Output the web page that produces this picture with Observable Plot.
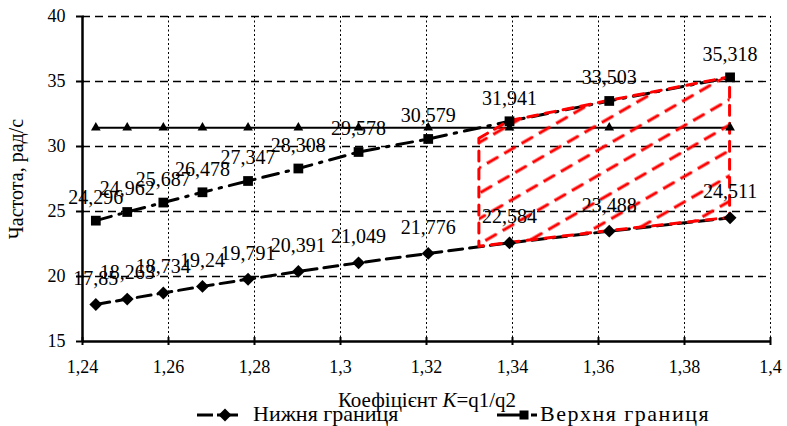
<!DOCTYPE html>
<html><head><meta charset="utf-8">
<script src="https://cdn.jsdelivr.net/npm/d3@7"></script>
<script src="https://cdn.jsdelivr.net/npm/@observablehq/plot@0.6"></script>
<style>
body{margin:0;background:#fff;}
#wrap{position:relative;width:787px;height:426px;overflow:hidden;font-family:"Liberation Serif","Times New Roman",Times,"DejaVu Serif",serif;color:#000;}
#wrap svg text{font-family:"Liberation Serif","Times New Roman",Times,"DejaVu Serif",serif;}
.abs{position:absolute;line-height:1;white-space:nowrap;}
</style></head><body><div id="wrap"></div>
<script>
// ---- data ----
const kValues = [1.2431, 1.2504, 1.2588, 1.2679, 1.2785, 1.2902, 1.3042, 1.3204, 1.3393, 1.3625, 1.3906];
const lowerBound = [17.85, 18.263, 18.734, 19.24, 19.791, 20.391, 21.049, 21.776, 22.584, 23.488, 24.511];
const upperBound = [24.296, 24.962, 25.687, 26.478, 27.347, 28.308, 29.578, 30.579, 31.941, 33.503, 35.318];
const middleLevel = [31.45, 31.45, 31.45, 31.45, 31.45, 31.45, 31.45, 31.45, 31.45, 31.45, 31.45];
const regionK = [1.3323, 1.3393, 1.3625, 1.3906];
const regionLow = [22.28, 22.584, 23.488, 24.511];
const regionHigh = [30.6, 31.941, 33.503, 35.318];
const xTicks = [1.24, 1.26, 1.28, 1.30, 1.32, 1.34, 1.36, 1.38, 1.40];
const xTickLabels = ["1,24", "1,26", "1,28", "1,3", "1,32", "1,34", "1,36", "1,38", "1,4"];
const yTicks = [15, 20, 25, 30, 35, 40];
const yGrid = [20, 25, 30, 35, 40];
const xGrid = [1.26, 1.28, 1.30, 1.32, 1.34, 1.36, 1.38, 1.40];
const yTitle = "Частота, рад/с";
const seriesNames = ["Нижня границя", "Верхня границя"];

const fmt = v => String(v).replace(".", ",");
const lower = kValues.map((k, i) => ({k, v: lowerBound[i], t: fmt(lowerBound[i])}));
const upper = kValues.map((k, i) => ({k, v: upperBound[i], t: fmt(upperBound[i])}));
const middle = kValues.map((k, i) => ({k, v: middleLevel[i]}));
const region = regionK.map((k, i) => ({k, lo: regionLow[i], hi: regionHigh[i]}));

const serif = "'Liberation Serif', 'Times New Roman', Times, 'DejaVu Serif', serif";
const chart = Plot.plot({
  width: 787, height: 426,
  marginLeft: 82, marginRight: 17, marginTop: 16, marginBottom: 85,
  style: {background: "#fff", fontFamily: serif, color: "#000"},
  x: {domain: [1.24, 1.40], axis: null},
  y: {domain: [15, 40], axis: null},
  marks: [
    Plot.ruleY(yGrid, {stroke: "#000", strokeWidth: 1.3, strokeDasharray: "8,5"}),
    Plot.ruleX(xGrid, {stroke: "#000", strokeWidth: 1, strokeDasharray: "2,2.5"}),
    Plot.line(middle, {x: "k", y: "v", stroke: "#000", strokeWidth: 2}),
    Plot.line(upper, {x: "k", y: "v", stroke: "#000", strokeWidth: 3, strokeDasharray: "16,8,2.5,8"}),
    Plot.line(lower, {x: "k", y: "v", stroke: "#000", strokeWidth: 3, strokeDasharray: "14,7"}),
    Plot.areaY(region, {x: "k", y1: "lo", y2: "hi", fill: "url(#hatch)", stroke: "#ff0000", strokeWidth: 3, strokeDasharray: "10,8", strokeLinecap: "round"}),
    Plot.dot(middle, {x: "k", y: "v", symbol: "triangle", r: 3.6, fill: "#000", stroke: "none"}),
    Plot.dot(upper, {x: "k", y: "v", symbol: "square", r: 5.5, fill: "#000", stroke: "none"}),
    Plot.dot(lower, {x: "k", y: "v", symbol: "diamond2", r: 5.8, fill: "#000", stroke: "none"}),
    Plot.text(upper, {x: "k", y: "v", text: "t", fontSize: 20, lineAnchor: "middle", dy: -23, fill: "#000"}),
    Plot.text(lower, {x: "k", y: "v", text: "t", fontSize: 20, lineAnchor: "middle", dy: -26, fill: "#000"}),
    Plot.ruleY([15], {stroke: "#000", strokeWidth: 2.5}),
    Plot.ruleX([1.24], {stroke: "#000", strokeWidth: 2.5}),
    Plot.axisX({ticks: xTicks, tickFormat: (d, i) => xTickLabels[i], tickSize: 0, tickPadding: 19, fontSize: 18, label: null}),
    Plot.axisX({ticks: xTicks, tickFormat: () => "", tickSize: 8, dy: -4, strokeWidth: 2, label: null}),
    Plot.axisY({ticks: yTicks, tickSize: 0, tickPadding: 17, fontSize: 18, label: null}),
    Plot.axisY({ticks: yTicks, tickFormat: () => "", tickSize: 8, dx: 2, strokeWidth: 2, label: null}),
    Plot.axisY({ticks: [], tickSize: 0, label: yTitle, labelAnchor: "center", labelArrow: "none", labelOffset: 74, fontSize: 20})
  ]
});

const ns = "http://www.w3.org/2000/svg";
const defs = document.createElementNS(ns, "defs");
defs.innerHTML = '<pattern id="hatch" patternUnits="userSpaceOnUse" width="20" height="22" patternTransform="rotate(-30)"><line x1="0" y1="11" x2="20" y2="11" stroke="#ff0000" stroke-width="3" stroke-dasharray="12 8" stroke-linecap="round"/></pattern>';
chart.insertBefore(defs, chart.firstChild);

const wrap = document.getElementById("wrap");
wrap.appendChild(chart);

// x-axis title
const xt = document.createElement("div");
xt.className = "abs";
xt.style.cssText = "left:427px;top:390px;font-size:21px;transform:translateX(-50%);";
xt.innerHTML = "Коефіцієнт <i>K</i>=q1/q2";
wrap.appendChild(xt);

// legend
function addSwatch(left, inner) {
  const s = document.createElementNS(ns, "svg");
  s.setAttribute("width", 44); s.setAttribute("height", 14);
  s.style.cssText = `position:absolute;left:${left}px;top:408px;`;
  s.innerHTML = inner;
  wrap.appendChild(s);
}
addSwatch(197, '<line x1="0" y1="7" x2="41" y2="7" stroke="#000" stroke-width="3" stroke-dasharray="16,4,40"/><path d="M28,0.5 L34.5,7 L28,13.5 L21.5,7Z" fill="#000"/>');
addSwatch(497, '<line x1="0" y1="7" x2="40" y2="7" stroke="#000" stroke-width="3" stroke-dasharray="26,8,6"/><rect x="22.5" y="2.5" width="9" height="9" fill="#000"/>');
function addText(left, txt, spacing) {
  const d = document.createElement("div");
  d.className = "abs";
  d.style.cssText = `left:${left}px;top:403px;font-size:22px;letter-spacing:${spacing}px;`;
  d.textContent = txt;
  wrap.appendChild(d);
}
addText(253, seriesNames[0], 0);
addText(540, seriesNames[1], 1.5);
</script>
</body></html>
